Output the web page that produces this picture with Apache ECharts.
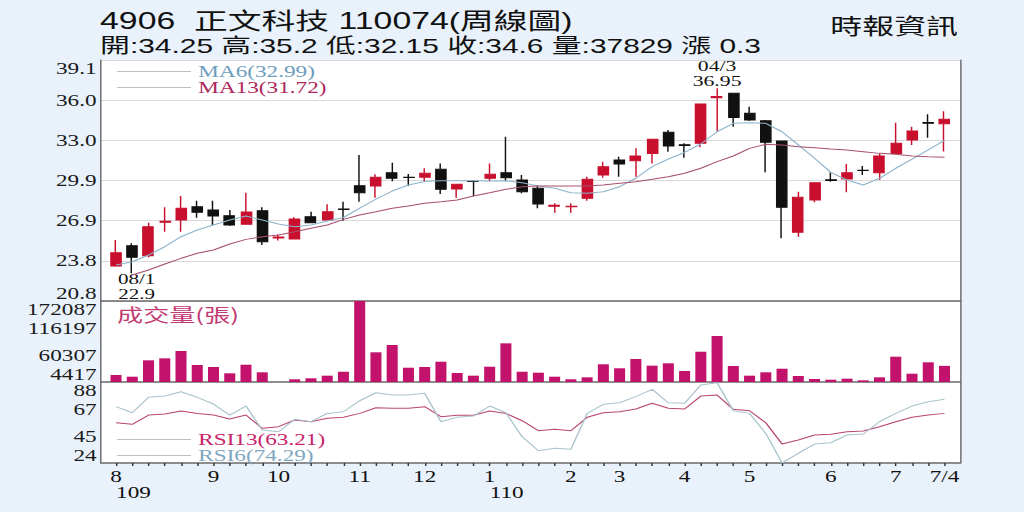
<!DOCTYPE html>
<html><head><meta charset="utf-8">
<script src="https://cdn.jsdelivr.net/npm/echarts@6/dist/echarts.min.js"></script>
<style>
html,body{margin:0;padding:0;background:#e9f2fb;overflow:hidden;}
#c{width:706px;height:512px;transform:scaleX(1.4504);transform-origin:0 0;}
</style></head><body><div id="c"></div>
<script>
// ---- data ----
const stockCode = '4906', stockName = '正文科技', reportDate = '110074', chartType = '周線圖', source = '時報資訊';
const volumeTitle = '成交量(張)';
const lowTag = '08/1', highTag = '04/3';
const monthTicks = ['8','','','','','','9','','','','10','','','','','11','','','','12','','','','1','','','','','2','','','3','','','','4','','','','5','','','','','6','','','','7','','','7/4'];
const yearTicks  = ['109','','','','','','','','','','','','','','','','','','','','','','','110','','','','','','','','','','','','','','','','','','','','','','','','','','','',''];
const priceTicks = ['20.8','23.8','26.9','29.9','33.0','36.0','39.1'];
const volTicks = ['4417','60307','116197','172087'];
const rsiTicks = ['24','45','67','88'];
// [open, close, low, high]
const ohlc = [
 [23.46,24.47,23.4,25.43],[25.0,24.12,22.9,25.18],[24.24,26.44,24.12,26.74],[26.78,26.85,26.06,27.91],[26.95,27.84,26.06,28.77],
 [27.96,27.53,27.12,28.42],[27.71,27.25,26.57,28.42],[27.28,26.57,26.5,27.71],[26.62,27.56,26.62,29.02],[27.66,25.30,25.05,27.91],
 [25.58,25.66,25.4,25.85],[25.51,27.03,25.5,27.15],[27.2,26.75,26.7,27.58],[26.95,27.58,26.9,28.14],[27.79,27.75,26.9,28.34],
 [29.55,29.02,28.34,31.89],[29.53,30.19,28.64,30.42],[30.54,30.12,29.9,31.3],[30.2,30.18,29.53,30.44],[30.19,30.5,29.86,30.88],
 [30.8,29.28,28.92,31.25],[29.3,29.66,28.64,29.7],[29.9,29.88,28.75,29.95],[30.12,30.42,29.9,31.25],[30.54,30.16,29.9,33.27],
 [29.99,29.1,28.98,30.37],[29.36,28.16,27.84,29.61],[28.0,28.08,27.5,28.22],[27.95,28.0,27.5,28.22],[28.6,30.04,28.42,30.24],
 [30.37,31.0,30.16,31.38],[31.5,31.2,30.24,31.76],[31.45,31.81,30.24,32.4],[32.0,33.08,31.25,33.1],[33.61,32.57,32.14,33.78],
 [32.66,32.6,31.68,32.77],[32.77,35.76,32.47,35.8],[36.24,36.32,33.65,36.95],[36.57,34.74,34.03,36.62],[35.05,34.54,34.47,35.55],
 [34.49,32.85,30.57,34.54],[32.95,27.91,25.56,32.95],[26.02,28.67,25.68,29.1],[28.47,29.78,28.3,29.8],[30.0,29.95,29.86,30.57],
 [30.06,30.54,29.05,31.2],[30.73,30.7,30.37,31.05],[30.54,31.81,29.99,32.01],[32.0,32.77,31.94,34.34],[33.03,33.71,32.65,34.03],
 [34.35,34.3,33.2,34.98],[34.25,34.6,32.15,35.2]
];
const volume = [18907,15400,49300,53400,68600,39600,35500,22400,40200,24500,4417,10000,12100,17500,25700,172087,65900,81000,34000,35500,46400,23000,17500,36100,84500,25700,23700,15400,10000,14100,41100,32800,52000,38200,43100,27200,67100,99600,37500,17500,24500,31900,16800,10600,9200,11300,7900,14100,56800,21600,45200,37829];
const ma6 = [23.53,23.78,24.29,24.92,25.68,26.19,26.57,26.95,27.25,26.95,26.65,26.44,26.57,26.87,27.14,27.86,28.54,29.15,29.61,29.87,29.93,29.93,29.93,29.91,29.93,29.78,29.53,29.36,29.02,28.98,29.1,29.48,30.12,31.01,31.58,32.08,32.72,33.65,34.29,34.34,34.29,33.65,32.65,31.64,30.57,29.99,29.61,30.12,30.88,31.58,32.27,32.99];
const ma13 = [null,22.77,23.15,23.61,24.04,24.42,24.67,25.13,25.48,25.68,25.81,26.06,26.32,26.57,27.0,27.33,27.58,27.84,28.01,28.22,28.34,28.47,28.77,29.02,29.28,29.48,29.53,29.53,29.53,29.53,29.61,29.74,29.86,30.04,30.24,30.5,30.88,31.38,31.81,32.39,32.7,32.65,32.52,32.44,32.34,32.27,32.14,32.01,31.94,31.81,31.76,31.72];
const rsi6 = [68.5,63.7,75.9,76.9,80.3,75.9,70.6,61.9,69.0,50.1,48.7,58.5,56.6,63.2,64.5,73.2,79.5,77.7,77.7,79.1,56.6,60.1,61.1,69.0,63.7,44.8,33.7,35.6,34.8,63.2,70.4,71.6,76.4,82.2,71.6,71.2,85.6,87.4,65.3,63.2,47.4,24.0,31.7,39.0,40.0,46.1,46.9,56.6,63.2,69.0,72.4,74.29];
const rsi13 = [55.8,54.6,61.9,62.7,65.1,63.2,61.9,58.8,61.9,51.4,52.7,58.0,56.6,59.3,60.1,63.2,67.7,67.2,67.2,68.5,60.6,61.7,61.7,65.1,63.2,57.4,49.5,50.6,49.5,60.1,63.7,64.5,66.7,71.2,67.2,66.7,76.9,77.7,66.4,65.3,55.8,39.0,42.2,46.1,46.7,48.7,49.3,52.7,56.6,60.1,61.9,63.21];

// ---- chart ----
const SERIF = "'Liberation Serif','Noto Sans CJK TC',serif";
const SANS = "'Liberation Sans Narrow','Liberation Sans','Noto Sans CJK TC',sans-serif";
const CJK = "'Noto Sans CJK TC',sans-serif";
const cats = monthTicks.map((_, i) => String(i));
const last = a => a[a.length - 1];
const lastBar = last(ohlc), prevClose = ohlc[ohlc.length - 2][1];
const chg = Math.round((lastBar[1] - prevClose) * 100) / 100;
const line1 = `${stockCode}  ${stockName} ${reportDate}(${chartType})`;
const line2 = `開:${lastBar[0]} 高:${lastBar[3]} 低:${lastBar[2]} 收:${lastBar[1]} 量:${last(volume)} 漲 ${chg}`;

const FL = 69.6, FR = 44.1, DL = 74.4, DR = 49.2;
const P = {top: 60, height: 241}, V = {top: 301, height: 81}, R = {top: 382, height: 81};
const AX = '#6a6a6a';

function frameGrid(p) { return {left: FL, right: FR, top: p.top, height: p.height, show: true, backgroundColor: '#fff', borderWidth: 0}; }
function dataGrid(p) { return {left: DL, right: DR, top: p.top, height: p.height}; }
function frameX(g) { return {type: 'value', gridIndex: g, min: 0, max: 1, axisLine: {show: true, onZero: false, lineStyle: {color: AX, width: 1.5}}, axisTick: {show: false}, axisLabel: {show: false}, splitLine: {show: false}}; }
function hiddenCat(g) { return {type: 'category', gridIndex: g, data: cats, boundaryGap: true, show: false}; }
function labelY(g, labels, split) {
  return {type: 'value', gridIndex: g, position: 'left', min: 0, max: labels.length - 1, interval: 1,
    axisLine: {show: true, onZero: false, lineStyle: {color: AX, width: 1}}, axisTick: {show: false},
    axisLabel: {formatter: v => labels[v] || '', margin: 3, fontSize: 16, fontFamily: SERIF, color: '#1a1a1a',
      verticalAlignMaxLabel: 'top', verticalAlignMinLabel: 'bottom'},
    splitLine: {show: split, lineStyle: {color: '#d9d9d9', width: 1}}};
}
function rightY(g) { return {type: 'value', gridIndex: g, position: 'right', min: 0, max: 1, axisLine: {show: true, onZero: false, lineStyle: {color: AX, width: 1}}, axisTick: {show: false}, axisLabel: {show: false}, splitLine: {show: false}}; }
function dataY(g, mn, mx) { return {type: 'value', gridIndex: g, min: mn, max: mx, show: false, splitLine: {show: false}}; }
function legendItem(name, top, textColor, arr) {
  return {top: top, left: 80.7, orient: 'vertical', padding: 0, itemWidth: 51, itemHeight: 1, selectedMode: false,
    data: [{name: name, icon: 'rect', itemStyle: {color: '#bdbdbd'}, textStyle: {color: textColor}}],
    formatter: n => `${n}(${last(arr)})`, textStyle: {fontSize: 16, lineHeight: 16, fontFamily: SERIF}};
}

const option = {
  animation: false,
  backgroundColor: '#e9f2fb',
  title: [
    {text: line1, left: 69, top: 9, padding: 0, textStyle: {fontSize: 23.3, fontWeight: 'normal', color: '#111', fontFamily: SANS}},
    {text: line2, left: 69, top: 35, padding: 0, textStyle: {fontSize: 20.6, fontWeight: 'normal', color: '#111', fontFamily: SANS}},
    {text: source, right: 45.5, top: 13, padding: 0, textStyle: {fontSize: 22, fontWeight: 'normal', color: '#111', fontFamily: CJK}},
    {text: volumeTitle, left: 80.7, top: 305, padding: 0, textStyle: {fontSize: 18, lineHeight: 18, fontWeight: 'normal', color: '#c23a72', fontFamily: CJK}}
  ],
  legend: [
    legendItem('MA6', 63.5, '#6e9dbd', ma6),
    legendItem('MA13', 79.5, '#b0285c', ma13),
    legendItem('RSI13', 431.5, '#c8246a', rsi13),
    legendItem('RSI6', 447.5, '#7fa7bf', rsi6)
  ],
  grid: [frameGrid(P), frameGrid(V), frameGrid(R), dataGrid(P), dataGrid(V), dataGrid(R)],
  xAxis: [
    frameX(0), frameX(1), frameX(2), hiddenCat(3), hiddenCat(4),
    {type: 'category', gridIndex: 5, data: cats, boundaryGap: true,
      axisLine: {show: false}, axisTick: {show: true, alignWithLabel: true, interval: 0, length: 3, lineStyle: {color: '#333'}},
      axisLabel: {interval: (i) => monthTicks[i] !== '', formatter: (v, i) => monthTicks[i], margin: 5, fontSize: 16, fontFamily: SERIF, color: '#111'},
      splitLine: {show: false}},
    {type: 'category', gridIndex: 5, data: cats, boundaryGap: true, position: 'bottom',
      axisLine: {show: false}, axisTick: {show: false},
      axisLabel: {interval: (i) => yearTicks[i] !== '', formatter: (v, i) => yearTicks[i], margin: 21, align: 'left', fontSize: 16, fontFamily: SERIF, color: '#111'},
      splitLine: {show: false}}
  ],
  yAxis: [
    labelY(0, priceTicks, true), rightY(0),
    labelY(1, volTicks, false), rightY(1),
    labelY(2, rsiTicks, false), rightY(2),
    dataY(3, parseFloat(priceTicks[0]), parseFloat(last(priceTicks))),
    dataY(4, parseFloat(volTicks[0]), parseFloat(last(volTicks))),
    dataY(5, parseFloat(rsiTicks[0]), parseFloat(last(rsiTicks)))
  ],
  series: [
    {type: 'candlestick', name: 'K', xAxisIndex: 3, yAxisIndex: 6, data: ohlc, barWidth: 7.6, z: 3,
      itemStyle: {color: '#c8102e', color0: '#111111', borderColor: '#c8102e', borderColor0: '#111111', borderWidth: 1},
      markPoint: {symbol: 'circle', symbolSize: 0, itemStyle: {color: 'transparent'},
        label: {fontSize: 15, fontFamily: SERIF, color: '#111', lineHeight: 15},
        data: [
          {type: 'min', valueDim: 'lowest', label: {position: 'bottom', distance: 0, offset: [3, -1], fontSize: 14.5, lineHeight: 14.5, formatter: p => `${lowTag}\n${p.value}`}},
          {type: 'max', valueDim: 'highest', label: {position: 'top', distance: 0, formatter: p => `${highTag}\n${p.value}`}}
        ]}},
    {type: 'line', name: 'MA6', xAxisIndex: 3, yAxisIndex: 6, data: ma6, showSymbol: false, z: 5, lineStyle: {color: '#8fb5cc', width: 1}, itemStyle: {color: '#8fb5cc'}},
    {type: 'line', name: 'MA13', xAxisIndex: 3, yAxisIndex: 6, data: ma13, showSymbol: false, z: 5, lineStyle: {color: '#a8506e', width: 1}, itemStyle: {color: '#a8506e'}},
    {type: 'bar', name: 'VOL', xAxisIndex: 4, yAxisIndex: 7, data: volume, barWidth: 7.6, itemStyle: {color: '#c2126c'}},
    {type: 'line', name: 'RSI13', xAxisIndex: 5, yAxisIndex: 8, data: rsi13, showSymbol: false, lineStyle: {color: '#b8466f', width: 1}, itemStyle: {color: '#b8466f'}},
    {type: 'line', name: 'RSI6', xAxisIndex: 5, yAxisIndex: 8, data: rsi6, showSymbol: false, lineStyle: {color: '#a9c4cd', width: 1}, itemStyle: {color: '#a9c4cd'}}
  ]
};
const chart = echarts.init(document.getElementById('c'), null, {renderer: 'svg'});
chart.setOption(option);
</script></body></html>
